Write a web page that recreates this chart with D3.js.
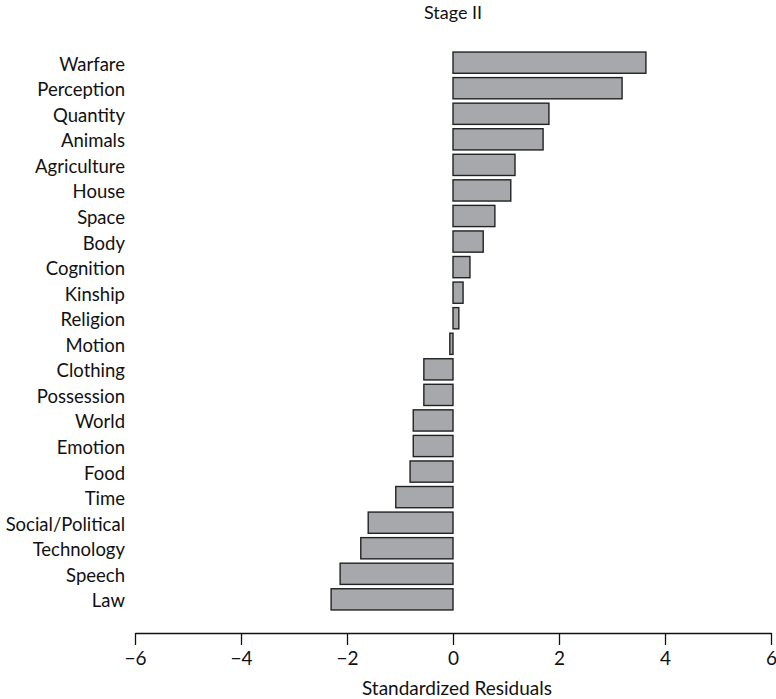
<!DOCTYPE html>
<html><head><meta charset="utf-8">
<script src="https://cdn.jsdelivr.net/npm/d3@7"></script>
<style>body{margin:0;background:#fff}svg{display:block}text{font-family:Lato,"Open Sans",sans-serif;fill:#111}</style>
</head><body><svg id="c" width="776" height="699"></svg>
<script>
const categories = ["Warfare","Perception","Quantity","Animals","Agriculture","House","Space","Body","Cognition","Kinship","Religion","Motion","Clothing","Possession","World","Emotion","Food","Time","Social/Political","Technology","Speech","Law"];
const residuals = [3.64,3.19,1.81,1.70,1.17,1.09,0.79,0.57,0.32,0.19,0.11,-0.06,-0.55,-0.55,-0.75,-0.75,-0.81,-1.08,-1.60,-1.74,-2.13,-2.30];
const xTicks = [-6,-4,-2,0,2,4,6];
const title = "Stage II";
const xTitle = "Standardized Residuals";

const svg = d3.select("#c");
const x = d3.scaleLinear().domain([-6,6]).range([135,771]);
const y = d3.scaleBand().domain(categories).range([50,612]).paddingInner(0.17).paddingOuter(0.08);

svg.append("text").attr("x",x(0)).attr("y",19).attr("text-anchor","middle").attr("font-size",18).text(title);

svg.selectAll("rect.bar").data(categories).join("rect").attr("class","bar")
  .attr("x",(d,i)=>x(Math.min(0,residuals[i])))
  .attr("width",(d,i)=>Math.abs(x(residuals[i])-x(0)))
  .attr("y",d=>y(d)).attr("height",y.bandwidth())
  .attr("fill","#a7a8ab").attr("stroke","#222").attr("stroke-width",1.4);

svg.selectAll("text.lab").data(categories).join("text").attr("class","lab")
  .attr("x",125).attr("y",d=>y(d)+y.bandwidth()/2+1.5).attr("dy","0.35em")
  .attr("text-anchor","end").attr("font-size",18.5).text(d=>d);

const ax = svg.append("g").attr("transform","translate(0,633)")
  .call(d3.axisBottom(x).tickValues(xTicks).tickSize(12).tickPadding(7).tickSizeOuter(0));
ax.select(".domain").attr("stroke","#111").attr("stroke-width",1.3);
ax.selectAll(".tick line").attr("stroke","#111").attr("stroke-width",1.3);
ax.selectAll(".tick text").attr("font-size",19).attr("font-family","Lato,'Open Sans',sans-serif").attr("fill","#111");

svg.append("text").attr("x",x(0)+4).attr("y",695).attr("text-anchor","middle").attr("font-size",19).text(xTitle);
</script></body></html>
